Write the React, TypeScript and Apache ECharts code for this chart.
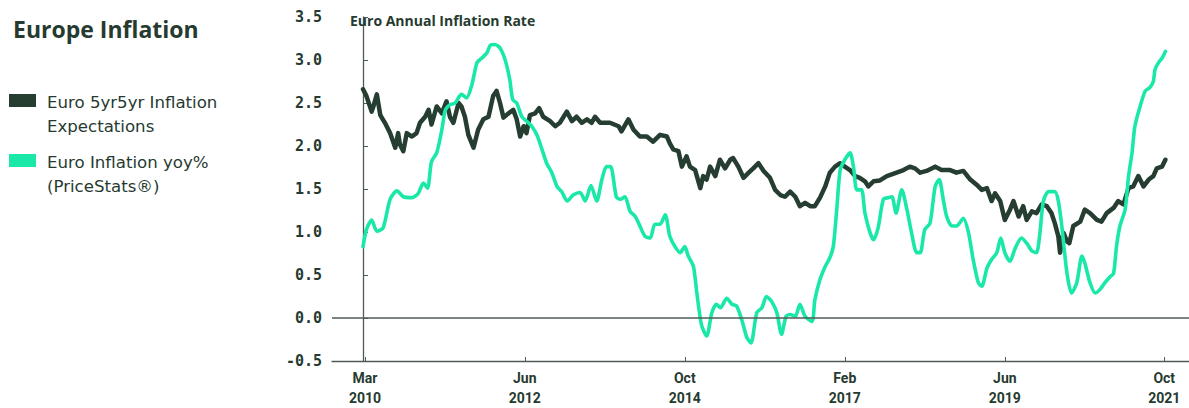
import React, { useEffect, useRef } from "react";
import * as echarts from "echarts";

// x values are months since 1 March 2010
const tickMonths = [0.35, 28.1, 55.9, 83.7, 111.5, 139.2];
const tickLabels = ["Mar\n2010", "Jun\n2012", "Oct\n2014", "Feb\n2017", "Jun\n2019", "Oct\n2021"];
const yTicks = [-0.5, 0, 0.5, 1, 1.5, 2, 2.5, 3, 3.5];

const seriesNames = ["Euro 5yr5yr Inflation\nExpectations", "Euro Inflation yoy%\n(PriceStats®)"];

const expectations5y5y: [number, number][] = [
  [0.0, 2.66], [0.6, 2.58], [1.5, 2.4], [1.8, 2.46], [2.4, 2.6], [3.0, 2.36], [3.8, 2.27], [4.7, 2.15], [5.6, 1.98], [6.1, 2.15],
  [6.4, 2.02], [7.0, 1.94], [7.6, 2.15], [8.5, 2.11], [9.3, 2.15], [9.9, 2.27], [10.8, 2.34], [11.4, 2.42], [11.9, 2.25], [12.8, 2.46],
  [13.7, 2.38], [14.5, 2.52], [15.1, 2.34], [15.7, 2.27], [16.6, 2.5], [17.1, 2.46], [17.7, 2.34], [18.3, 2.13], [19.2, 1.98], [20.0, 2.19],
  [20.9, 2.31], [21.8, 2.34], [22.6, 2.58], [23.2, 2.64], [23.8, 2.5], [24.4, 2.33], [25.3, 2.38], [26.1, 2.42], [26.7, 2.31], [27.3, 2.11],
  [27.9, 2.23], [28.4, 2.15], [29.0, 2.36], [29.9, 2.38], [30.6, 2.44], [31.3, 2.34], [32.5, 2.29], [33.4, 2.23], [34.2, 2.27], [35.4, 2.4],
  [36.3, 2.29], [37.1, 2.34], [38.0, 2.27], [38.9, 2.31], [39.7, 2.27], [40.3, 2.34], [41.2, 2.27], [42.9, 2.27], [44.4, 2.23], [44.9, 2.17],
  [46.1, 2.31], [47.0, 2.19], [48.1, 2.11], [49.3, 2.11], [50.4, 2.05], [51.6, 2.13], [52.8, 2.11], [53.3, 2.03], [53.9, 1.96], [54.8, 1.94],
  [55.4, 1.76], [56.2, 1.88], [56.8, 1.76], [57.7, 1.72], [58.6, 1.51], [59.1, 1.65], [59.7, 1.61], [60.3, 1.76], [61.2, 1.65], [62.0, 1.84],
  [62.9, 1.74], [63.8, 1.84], [64.3, 1.86], [65.2, 1.76], [66.1, 1.63], [67.0, 1.69], [67.8, 1.74], [68.7, 1.8], [69.6, 1.71], [70.7, 1.63],
  [71.6, 1.49], [72.5, 1.43], [73.3, 1.41], [74.2, 1.47], [75.1, 1.41], [75.9, 1.3], [76.8, 1.34], [77.7, 1.3], [78.5, 1.3], [79.4, 1.4],
  [80.3, 1.53], [81.1, 1.69], [82.0, 1.76], [82.9, 1.8], [83.7, 1.76], [84.6, 1.72], [85.5, 1.65], [86.3, 1.63], [87.2, 1.59], [87.8, 1.53],
  [88.7, 1.59], [89.8, 1.6], [91.0, 1.65], [92.7, 1.69], [93.9, 1.72], [95.0, 1.76], [95.9, 1.74], [96.8, 1.69], [97.9, 1.71], [99.4, 1.76],
  [100.5, 1.72], [102.0, 1.72], [103.1, 1.69], [104.3, 1.71], [105.5, 1.61], [106.6, 1.55], [107.5, 1.49], [108.4, 1.51], [109.2, 1.36], [109.8, 1.45],
  [110.7, 1.36], [111.5, 1.14], [112.4, 1.26], [113.0, 1.36], [113.9, 1.18], [114.7, 1.3], [115.3, 1.14], [116.2, 1.24], [117.0, 1.22], [117.9, 1.32],
  [118.8, 1.3], [119.6, 1.22], [120.2, 1.1], [120.8, 0.95], [121.1, 0.76], [121.7, 0.99], [122.3, 0.89], [122.7, 0.87], [123.4, 1.07], [124.6, 1.12],
  [125.4, 1.26], [126.3, 1.22], [127.5, 1.14], [128.3, 1.12], [129.2, 1.22], [130.4, 1.28], [131.2, 1.36], [132.1, 1.32], [133.0, 1.51], [133.8, 1.53],
  [134.7, 1.65], [135.6, 1.53], [136.5, 1.61], [137.3, 1.65], [137.9, 1.74], [138.8, 1.76], [139.4, 1.84],
];

const inflationYoY: [number, number][] = [
  [0.0, 0.83], [0.6, 1.03], [1.5, 1.14], [2.4, 1.01], [3.5, 1.05], [4.7, 1.38], [5.9, 1.48], [7.0, 1.41], [8.5, 1.4], [9.6, 1.45],
  [10.5, 1.57], [11.2, 1.51], [11.9, 1.82], [12.8, 1.92], [13.7, 2.19], [14.3, 2.42], [15.1, 2.48], [16.0, 2.5], [17.1, 2.6], [18.0, 2.56],
  [18.9, 2.71], [19.8, 2.97], [20.6, 3.02], [21.5, 3.08], [22.1, 3.17], [22.9, 3.18], [23.8, 3.14], [24.7, 3.0], [25.5, 2.77], [26.0, 2.54],
  [26.7, 2.5], [27.6, 2.34], [28.4, 2.29], [29.3, 2.23], [30.2, 2.13], [31.0, 1.98], [31.9, 1.8], [32.8, 1.69], [33.7, 1.53], [34.5, 1.47],
  [35.5, 1.36], [36.5, 1.43], [37.7, 1.46], [38.6, 1.36], [39.6, 1.54], [40.6, 1.36], [41.5, 1.61], [42.3, 1.76], [43.0, 1.76], [44.0, 1.41],
  [44.7, 1.38], [45.5, 1.41], [46.4, 1.24],
  [47.3, 1.18], [48.1, 1.07], [49.0, 0.95], [49.9, 0.93], [50.7, 1.09], [51.6, 1.09], [52.5, 1.2], [53.3, 0.95], [54.2, 0.83], [55.1, 0.76],
  [55.9, 0.83], [56.5, 0.72], [57.4, 0.6], [58.0, 0.29], [58.8, -0.08], [59.7, -0.21], [60.6, 0.06], [61.4, 0.16], [62.1, 0.12], [63.2, 0.23],
  [64.1, 0.16], [64.9, 0.14], [65.8, -0.02], [66.7, -0.23], [67.4, -0.29], [68.4, 0.06], [69.3, 0.12], [70.1, 0.25], [71.0, 0.19], [71.9, 0.06],
  [72.7, -0.19], [73.5, 0.02], [74.2, 0.04], [75.1, 0.02], [75.9, 0.16], [76.8, 0.02], [78.0, -0.04], [78.5, 0.21], [79.4, 0.45], [80.3, 0.6],
  [81.1, 0.7], [81.7, 0.83], [82.3, 1.26], [82.9, 1.72], [83.7, 1.84], [84.6, 1.92], [85.2, 1.76], [85.8, 1.49], [86.6, 1.49], [87.2, 1.22],
  [88.1, 0.99], [88.7, 0.91], [89.5, 1.05],
  [90.4, 1.38], [91.3, 1.4], [91.9, 1.41], [92.6, 1.22], [93.6, 1.49], [94.5, 1.26], [95.3, 0.99], [96.2, 0.76], [96.8, 0.76], [97.6, 1.03],
  [98.5, 1.1], [99.4, 1.53], [100.1, 1.61], [100.8, 1.38], [101.4, 1.18], [102.3, 1.07], [103.1, 1.07], [104.3, 1.16], [105.2, 0.99], [106.0, 0.68],
  [106.9, 0.41], [107.5, 0.37], [108.4, 0.58], [109.2, 0.68], [110.1, 0.76], [110.8, 0.93], [111.5, 0.76], [112.4, 0.66], [113.3, 0.81], [114.4, 0.93],
  [115.3, 0.87], [116.2, 0.78], [117.0, 0.76], [117.6, 0.99], [118.2, 1.36], [119.1, 1.47], [120.2, 1.47], [120.8, 1.36], [121.4, 1.07], [122.3, 0.52],
  [123.1, 0.29], [124.0, 0.41], [124.9, 0.72], [125.4, 0.64], [126.3, 0.41], [127.2, 0.29], [128.0, 0.33], [128.9, 0.41], [129.8, 0.48], [130.4, 0.52],
  [130.9, 0.83], [131.5, 1.07], [132.4, 1.26], [133.0, 1.65], [133.6, 1.92], [134.1, 2.23], [135.0, 2.46], [135.9, 2.64], [136.7, 2.68], [137.3, 2.75],
  [137.6, 2.89], [138.2, 2.97], [138.8, 3.02], [139.4, 3.1],
];

const DARK = "#263d31";
const GREEN = "#1ae8a9";
const TEXT = "#263a30";
const AXIS = "#4f5c55";

export default function App() {
  const ref = useRef<HTMLDivElement>(null);
  useEffect(() => {
    if (!ref.current) return;
    const chart = echarts.init(ref.current, undefined, { renderer: "svg" });
    const labelFor = (v: number) => {
      let best = 0;
      for (let i = 1; i < tickMonths.length; i++) {
        if (Math.abs(tickMonths[i] - v) < Math.abs(tickMonths[best] - v)) best = i;
      }
      return tickLabels[best];
    };
    chart.setOption({
      animation: false,
      backgroundColor: "#ffffff",
      title: [
        {
          text: "Europe Inflation",
          left: 8,
          top: 12,
          textStyle: { fontFamily: "Open Sans", fontWeight: "bold", fontSize: 23, color: TEXT },
        },
        {
          text: "Euro Annual Inflation Rate",
          left: 345,
          top: 8,
          textStyle: { fontFamily: "Open Sans", fontWeight: "bold", fontSize: 14, color: TEXT },
        },
      ],
      graphic: [
        { type: "rect", shape: { x: 9, y: 94, width: 27, height: 13 }, style: { fill: DARK } },
        {
          type: "text",
          x: 47,
          y: 90,
          style: { text: seriesNames[0], font: "16.6px 'DejaVu Sans'", lineHeight: 24, fill: TEXT, verticalAlign: "top" },
        },
        { type: "rect", shape: { x: 9, y: 154, width: 27, height: 13 }, style: { fill: GREEN } },
        {
          type: "text",
          x: 47,
          y: 150,
          style: { text: seriesNames[1], font: "16.6px 'DejaVu Sans'", lineHeight: 24, fill: TEXT, verticalAlign: "top" },
        },
      ],
      grid: { left: 332, right: 0, top: 17, bottom: 47, containLabel: false },
      xAxis: {
        type: "value",
        min: -5.39,
        max: 143.5,
        axisLine: { show: true, onZero: false, lineStyle: { color: AXIS, width: 1.3 } },
        axisTick: { show: true, inside: true, length: 4, customValues: tickMonths, lineStyle: { color: AXIS } },
        axisLabel: {
          customValues: tickMonths,
          formatter: (v: number) => labelFor(v),
          fontFamily: "Roboto",
          fontWeight: "bold",
          fontSize: 14,
          lineHeight: 20,
          margin: 7,
          color: TEXT,
        },
        splitLine: { show: false },
      },
      yAxis: {
        type: "value",
        min: -0.5,
        max: 3.5,
        interval: 0.5,
        axisLine: { show: true, lineStyle: { color: AXIS, width: 1.3 } },
        axisTick: { show: true, inside: true, length: 5, customValues: yTicks, lineStyle: { color: AXIS } },
        axisLabel: {
          formatter: (v: number) => v.toFixed(1),
          fontFamily: "DejaVu Sans Mono",
          fontWeight: "bold",
          fontSize: 15,
          margin: 10,
          color: TEXT,
        },
        splitLine: { show: false },
      },
      series: [
        {
          name: seriesNames[0],
          type: "line",
          data: expectations5y5y,
          showSymbol: false,
          symbol: "none",
          lineStyle: { color: DARK, width: 4.5, join: "round", cap: "round" },
          markLine: {
            silent: true,
            symbol: ["none", "none"],
            label: { show: false },
            lineStyle: { color: AXIS, width: 1.5, type: "solid" },
            data: [{ yAxis: 0 }],
          },
          z: 2,
        },
        {
          name: seriesNames[1],
          type: "line",
          data: inflationYoY,
          showSymbol: false,
          symbol: "none",
          smooth: 0.25,
          lineStyle: { color: GREEN, width: 3.6, join: "round", cap: "round" },
          z: 3,
        },
      ],
    });
    return () => chart.dispose();
  }, []);
  return (
    <div
      ref={ref}
      style={{ position: "absolute", left: 0, top: 0, width: 1189, height: 408, background: "#fff" }}
    />
  );
}
